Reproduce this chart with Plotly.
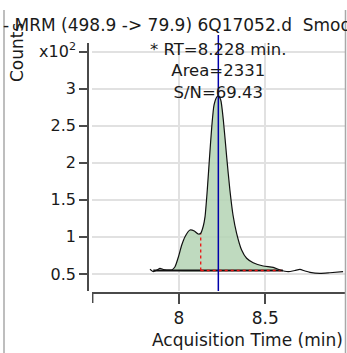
import numpy as np
import plotly.graph_objects as go

# ---------------- data ----------------
acq_time = [7.832, 7.851, 7.873, 7.890, 7.909, 7.929, 7.958, 7.977, 7.997, 8.016,
            8.035, 8.064, 8.089, 8.112, 8.126, 8.141, 8.151, 8.164, 8.176, 8.190,
            8.203, 8.219, 8.228, 8.242, 8.257, 8.277, 8.295, 8.313, 8.334, 8.363,
            8.392, 8.430, 8.488, 8.546, 8.585, 8.633, 8.672, 8.701, 8.730, 8.759,
            8.816, 8.874, 8.951]
counts_x100 = [0.562, 0.530, 0.553, 0.576, 0.560, 0.553, 0.553, 0.597, 0.732, 0.890,
               1.002, 1.092, 1.078, 1.038, 1.048, 1.146, 1.272, 1.632, 2.037, 2.486,
               2.778, 2.886, 2.900, 2.846, 2.576, 2.064, 1.632, 1.295, 1.048, 0.823,
               0.711, 0.651, 0.607, 0.589, 0.553, 0.530, 0.546, 0.560, 0.539, 0.522,
               0.508, 0.516, 0.530]

rt = 8.228
area = 2331
s_n = 69.43
baseline_level = 0.546
baseline_start = 7.851
integ_start = 7.965
integ_end = 8.602
split_time = 8.126
axis_start = 7.5

y_tickvals = [0.5, 1, 1.5, 2, 2.5, 3, 3.5]
y_ticktext = ["0.5", "1", "1.5", "2", "2.5", "3", "x10<sup>2</sup>"]
x_tickvals = [8, 8.5]
x_ticktext = ["8", "8.5"]

title_text = "- MRM (498.9 -> 79.9) 6Q17052.d\u00a0\u00a0Smooth"
title_prefix = "PFOS"

# ---------------- geometry helpers ----------------
W, H = 347, 353
L, R, T, B = 88, 2, 43, 60
PW, PH = W - L - R, H - T - B


def px(x):
    return (x - L) / PW


def py(y):
    return (H - B - y) / PH


FONT = "DejaVu Sans"
TXT = "#1a1a1a"
AX = "#4a4a4a"
GRID = "#e1e1e1"

t = np.array(acq_time)
c = np.array(counts_x100)

fig = go.Figure()

# integrated area fill
mask = (t > integ_start) & (t < integ_end)
fx = [integ_start] + list(t[mask]) + [integ_end, integ_end, integ_start]
fy = [baseline_level] + list(c[mask]) + [float(np.interp(integ_end, t, c)), baseline_level, baseline_level]
fig.add_trace(go.Scatter(x=fx, y=fy, mode="lines", fill="toself",
                         fillcolor="rgba(180,212,180,0.85)",
                         line=dict(width=0, shape="spline", smoothing=0.5),
                         hoverinfo="skip", showlegend=False))

# baseline (black)
fig.add_trace(go.Scatter(x=[baseline_start, integ_end], y=[baseline_level, baseline_level],
                         mode="lines", line=dict(color="#111111", width=2),
                         showlegend=False, hoverinfo="skip"))
# red dotted baseline part
fig.add_trace(go.Scatter(x=[split_time, integ_end], y=[baseline_level, baseline_level],
                         mode="lines", line=dict(color="#ee1111", width=1.5, dash="dot"),
                         showlegend=False, hoverinfo="skip"))
# red split line
fig.add_trace(go.Scatter(x=[split_time, split_time],
                         y=[baseline_level, float(np.interp(split_time, t, c))],
                         mode="lines", line=dict(color="#ee1111", width=1.3, dash="dot"),
                         showlegend=False, hoverinfo="skip"))

# chromatogram
fig.add_trace(go.Scatter(x=acq_time, y=counts_x100, mode="lines",
                         line=dict(color="#111111", width=1.2, shape="spline", smoothing=0.6),
                         showlegend=False))

shapes = [
    # RT marker
    dict(type="line", xref="x", yref="paper", x0=rt, x1=rt, y0=py(291), y1=py(35),
         line=dict(color="#0000aa", width=1.5)),
    # x-axis start tick
    dict(type="line", xref="x", yref="paper", x0=axis_start, x1=axis_start, y0=py(293), y1=py(303),
         line=dict(color=AX, width=1.5)),
    # panel borders
    dict(type="line", xref="paper", yref="paper", x0=px(4), x1=px(4), y0=py(353), y1=py(10),
         line=dict(color="#a8a8a8", width=1.5)),
    dict(type="line", xref="paper", yref="paper", x0=px(345.5), x1=px(345.5), y0=py(353), y1=py(10),
         line=dict(color="#a8a8a8", width=1.5)),
]

annotations = [
    dict(text=title_text, xref="paper", yref="paper", x=px(1), y=py(25),
         xanchor="left", yanchor="middle", showarrow=False,
         font=dict(size=17, color=TXT, family=FONT)),
    dict(text=title_prefix, xref="paper", yref="paper", x=px(1), y=py(25),
         xanchor="right", yanchor="middle", showarrow=False,
         font=dict(size=17, color=TXT, family=FONT)),
    dict(text="* RT=%.3f min.<br>Area=%d<br>S/N=%.2f" % (rt, area, s_n),
         xref="x", yref="paper", x=rt, y=py(71),
         xanchor="center", yanchor="middle", showarrow=False, align="center",
         font=dict(size=16.5, color=TXT, family=FONT)),
    dict(text="Counts", xref="paper", yref="paper", x=px(17), y=py(53),
         xanchor="center", yanchor="middle", textangle=-90, showarrow=False,
         font=dict(size=17, color=TXT, family=FONT)),
    dict(text="Acquisition Time (min)", xref="paper", yref="paper", x=px(345), y=py(340),
         xanchor="right", yanchor="middle", showarrow=False,
         font=dict(size=17, color=TXT, family=FONT)),
]

fig.update_layout(
    width=W, height=H,
    margin=dict(l=L, r=R, t=T, b=B, pad=0),
    paper_bgcolor="white", plot_bgcolor="white",
    font=dict(family=FONT, size=16, color=TXT),
    showlegend=False,
    xaxis=dict(domain=[px(92), 1], range=[7.496, 8.962], anchor="free", position=0,
               tickvals=x_tickvals, ticktext=x_ticktext, ticks="outside", ticklen=10,
               tickwidth=1.5, tickcolor=AX, showline=True, linecolor=AX, linewidth=1.5,
               showgrid=True, gridcolor=GRID, gridwidth=1.5, zeroline=False,
               tickfont=dict(size=17, family=FONT, color=TXT)),
    yaxis=dict(domain=[py(291), 1], range=[0.2696, 3.6147], anchor="free", position=0,
               tickvals=y_tickvals, ticktext=y_ticktext, ticks="outside", ticklen=8,
               tickwidth=1.5, tickcolor=AX, showline=True, linecolor=AX, linewidth=1.5,
               showgrid=True, gridcolor=GRID, gridwidth=1.5, zeroline=False,
               tickfont=dict(size=16, family=FONT, color=TXT)),
    shapes=shapes,
    annotations=annotations,
)

fig.write_html("out.html", config={"displayModeBar": False},
               post_script="document.body.style.margin='0';document.body.style.overflow='hidden';")
